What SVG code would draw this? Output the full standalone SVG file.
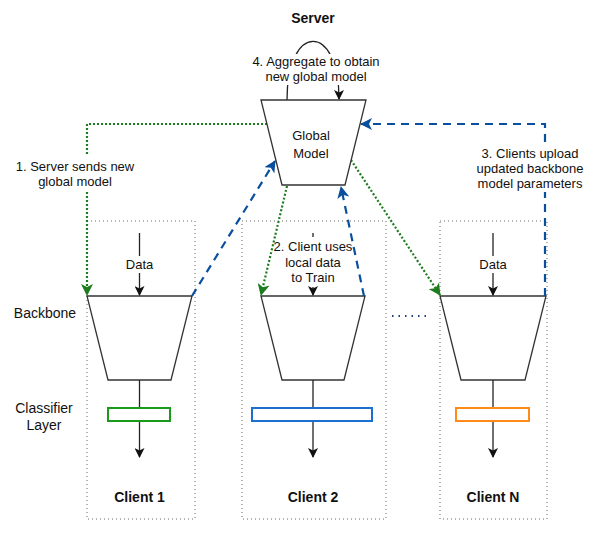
<svg xmlns="http://www.w3.org/2000/svg" width="599" height="541" viewBox="0 0 599 541">
<style>
text{font-family:"Liberation Sans",Arial,sans-serif;font-size:13px;fill:#111;text-anchor:middle}
.b{font-weight:bold;font-size:14px}
.side{font-size:14px}
.trap{fill:#fff;stroke:#333;stroke-width:1.3}
.box{fill:none;stroke:#666;stroke-width:1;stroke-dasharray:1 3}
.blk{fill:none;stroke:#222;stroke-width:1.3}
.grn{fill:none;stroke:#1e7b1e;stroke-width:2.2;stroke-dasharray:2 2}
.blu{fill:none;stroke:#0a4f9e;stroke-width:2.2;stroke-dasharray:8 6}
.bg{fill:#fff}
</style>
<defs>
<marker id="ag" markerUnits="userSpaceOnUse" markerWidth="12" markerHeight="12" refX="11" refY="6" orient="auto"><path d="M0,0 L12,6 L0,12 L3,6 z" fill="#1e7b1e"/></marker>
<marker id="ab" markerUnits="userSpaceOnUse" markerWidth="12" markerHeight="12" refX="11" refY="6" orient="auto"><path d="M0,0 L12,6 L0,12 L3,6 z" fill="#0a4f9e"/></marker>
<marker id="ak" markerUnits="userSpaceOnUse" markerWidth="10" markerHeight="10" refX="9" refY="5" orient="auto"><path d="M0,0 L10,5 L0,10 L2.5,5 z" fill="#111"/></marker>
</defs>

<text class="b" x="313" y="23">Server</text>

<g id="client1">
<rect class="box" x="87" y="221" width="108" height="298"/>
<polygon class="trap" points="87,296 192,296 171,380 108,380"/>
<line class="blk" x1="139.5" y1="233" x2="139.5" y2="295" marker-end="url(#ak)"/>
<rect class="bg" x="124" y="256" width="31" height="17"/>
<text x="139.5" y="269">Data</text>
<line class="blk" x1="139.5" y1="380" x2="139.5" y2="457" marker-end="url(#ak)"/>
<rect x="108" y="408" width="62" height="13" fill="#fff" stroke="#1a9a1a" stroke-width="2"/>
<text class="b" x="139.5" y="502">Client 1</text>
</g>

<g id="client2">
<rect class="box" x="242" y="221" width="144" height="298"/>
<polygon class="trap" points="261,296 365,296 344,380 282,380"/>
<line class="blk" x1="313" y1="233" x2="313" y2="237"/>
<line class="blk" x1="313" y1="287" x2="313" y2="295" marker-end="url(#ak)"/>
<text x="313" y="251">2. Client uses</text>
<text x="313" y="267">local data</text>
<text x="313" y="282">to Train</text>
<line class="blk" x1="313" y1="380" x2="313" y2="457" marker-end="url(#ak)"/>
<rect x="252" y="408" width="120" height="13" fill="#fff" stroke="#1a6fd0" stroke-width="2"/>
<text class="b" x="313" y="502">Client 2</text>
</g>

<g id="clientN">
<rect class="box" x="440" y="221" width="107" height="298"/>
<polygon class="trap" points="440,296 546,296 525,380 461,380"/>
<line class="blk" x1="493" y1="233" x2="493" y2="295" marker-end="url(#ak)"/>
<rect class="bg" x="478" y="256" width="31" height="17"/>
<text x="493" y="269">Data</text>
<line class="blk" x1="493" y1="380" x2="493" y2="457" marker-end="url(#ak)"/>
<rect x="456" y="408" width="73" height="13" fill="#fff" stroke="#ff8a1a" stroke-width="2"/>
<text class="b" x="493" y="502">Client N</text>
</g>

<g id="labels">
<text class="side" x="45" y="318">Backbone</text>
<text class="side" x="44" y="413">Classifier</text>
<text class="side" x="44" y="430">Layer</text>
<line x1="392" y1="316" x2="427" y2="316" stroke="#1f3f7f" stroke-width="2" stroke-dasharray="1.5 5"/>
</g>

<g id="connectors">
<path class="blk" d="M287,100 C287,22 339,22 339,99" marker-end="url(#ak)"/>
<path class="grn" d="M267,124 L87,124 L87,295" marker-end="url(#ag)"/>
<path class="grn" d="M287,186 L261,295" marker-end="url(#ag)"/>
<path class="grn" d="M351,160 L440,295" marker-end="url(#ag)"/>
<path class="blu" d="M192,296 L275,161" marker-end="url(#ab)"/>
<path class="blu" d="M364,296 L341,187" marker-end="url(#ab)"/>
<path class="blu" d="M545,296 L545,124 L361,124" marker-end="url(#ab)"/>
</g>

<g id="global">
<polygon class="trap" points="261,100 366,100 345,185 282,185"/>
<text x="311" y="140">Global</text>
<text x="311" y="158">Model</text>
</g>

<g id="edgeLabels">
<rect class="bg" x="250" y="54" width="132" height="31"/>
<text x="316" y="66">4. Aggregate to obtain</text>
<text x="316" y="81">new global model</text>
<rect class="bg" x="18" y="156" width="114" height="34"/>
<text x="75" y="171">1. Server sends new</text>
<text x="75" y="186">global model</text>
<rect class="bg" x="472" y="144" width="116" height="48"/>
<text x="530" y="158">3. Clients upload</text>
<text x="530" y="173">updated backbone</text>
<text x="530" y="188">model parameters</text>
</g>
</svg>
